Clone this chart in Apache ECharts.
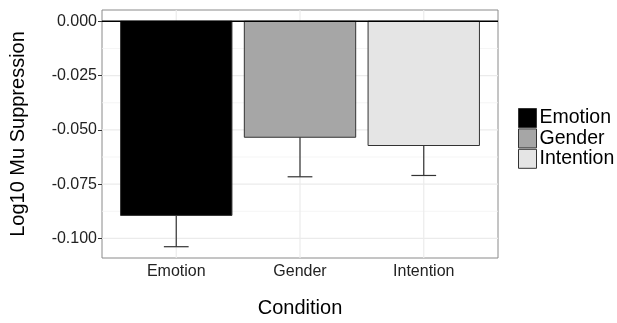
<!DOCTYPE html>
<html>
<head>
<meta charset="utf-8">
<script src="https://cdn.jsdelivr.net/npm/echarts@6/dist/echarts.min.js"></script>
<style>html,body{margin:0;padding:0;background:#fff}#c{width:617px;height:323px}</style>
</head>
<body>
<div id="c"></div>
<script>
// Data
const categories = ['Emotion', 'Gender', 'Intention'];
const means = [-0.0894, -0.0534, -0.0572];
const lowers = [-0.1038, -0.0716, -0.0710];
const fills = ['#000000', '#a6a6a6', '#e5e5e5'];
const yTicks = [-0.100, -0.075, -0.050, -0.025, 0.000];
const yMinor = [-0.0875, -0.0625, -0.0375, -0.0125];
const xPositions = [1, 2, 3];

const chart = echarts.init(document.getElementById('c'), null, {renderer: 'canvas'});
const FONT = 'Liberation Sans, Arial, Helvetica, sans-serif';

const barSeries = categories.map((name, i) => ({
  name: name,
  type: 'custom',
  z: 3,
  itemStyle: {color: fills[i], borderColor: '#333', borderWidth: 1},
  data: [[xPositions[i], means[i]]],
  renderItem: function (params, api) {
    const x = api.value(0), v = api.value(1);
    const p0 = api.coord([x - 0.45, 0]);
    const p1 = api.coord([x + 0.45, v]);
    return {
      type: 'rect',
      shape: {x: p0[0], y: p0[1], width: p1[0] - p0[0], height: p1[1] - p0[1]},
      style: {fill: fills[i], stroke: '#333', lineWidth: 1}
    };
  }
}));

const errSeries = {
  name: 'err',
  type: 'custom',
  z: 2,
  silent: true,
  data: categories.map((c, i) => [xPositions[i], means[i], lowers[i]]),
  renderItem: function (params, api) {
    const x = api.value(0), m = api.value(1), lo = api.value(2);
    const a = api.coord([x, m]);
    const b = api.coord([x, lo]);
    const c1 = api.coord([x - 0.1, lo]);
    const c2 = api.coord([x + 0.1, lo]);
    return {
      type: 'group',
      children: [
        {type: 'line', shape: {x1: a[0], y1: a[1], x2: b[0], y2: b[1]}, style: {stroke: '#333', lineWidth: 1.2}},
        {type: 'line', shape: {x1: c1[0], y1: c1[1], x2: c2[0], y2: c2[1]}, style: {stroke: '#333', lineWidth: 1.2}}
      ]
    };
  }
};

// gridlines: [orientation (0 = horizontal at y value, 1 = vertical at x value), value, kind (0 minor, 1 major, 2 zero)]
const gridData = [
  ...yMinor.map(v => [0, v, 0]),
  ...yTicks.map(v => [0, v, 1]),
  ...xPositions.map(v => [1, v, 1])
];
function lineRender(params, api) {
  const cs = params.coordSys;
  const o = api.value(0), v = api.value(1), k = api.value(2);
  const style = k === 0 ? {stroke: '#f3f3f3', lineWidth: 0.8}
              : k === 1 ? {stroke: '#ebebeb', lineWidth: 1.2}
              : {stroke: '#000', lineWidth: 1.5};
  let shape;
  if (o === 0) {
    const p = api.coord([1, v]);
    shape = {x1: cs.x, y1: p[1], x2: cs.x + cs.width, y2: p[1]};
  } else {
    const p = api.coord([v, 0]);
    shape = {x1: p[0], y1: cs.y, x2: p[0], y2: cs.y + cs.height};
  }
  return {type: 'line', shape: shape, style: style};
}
const gridSeries = {name: 'grid', type: 'custom', z: 0, silent: true, data: gridData, renderItem: lineRender};
const zeroSeries = {name: 'zero', type: 'custom', z: 5, silent: true, data: [[0, 0, 2]], renderItem: lineRender};

chart.setOption({
  animation: false,
  backgroundColor: '#fff',
  grid: {left: 100, right: 119, top: 10, bottom: 65, show: true, borderColor: '#8a8a8a', borderWidth: 1, backgroundColor: '#fff', containLabel: false},
  legend: {
    data: categories,
    orient: 'vertical',
    left: 518,
    top: 108,
    padding: 0,
    icon: 'rect',
    itemWidth: 18,
    itemHeight: 19,
    itemGap: 0.4,
    selectedMode: false,
    itemStyle: {borderColor: '#333', borderWidth: 1},
    textStyle: {fontFamily: FONT, fontSize: 19.5, color: '#000', lineHeight: 19, padding: [0, 0, 0, -2]}
  },
  xAxis: {
    type: 'value',
    min: 0.4,
    max: 3.6,
    name: 'Condition',
    nameLocation: 'middle',
    nameGap: 40,
    nameTextStyle: {fontFamily: FONT, fontSize: 20, color: '#000'},
    axisLine: {show: false},
    splitLine: {show: false},
    axisTick: {show: true, length: 4, customValues: xPositions, lineStyle: {color: '#333'}},
    axisLabel: {
      customValues: xPositions,
      margin: 6,
      fontFamily: FONT, fontSize: 16, color: '#222',
      formatter: v => categories[Math.round(v) - 1]
    }
  },
  yAxis: {
    type: 'value',
    min: -0.1090,
    max: 0.0052,
    name: 'Log10 Mu Suppression',
    nameLocation: 'middle',
    nameGap: 74,
    nameTextStyle: {fontFamily: FONT, fontSize: 20, color: '#000'},
    axisLine: {show: false},
    splitLine: {show: false},
    axisTick: {show: true, length: 4, customValues: yTicks, lineStyle: {color: '#333'}},
    axisLabel: {
      customValues: yTicks,
      margin: 5,
      fontFamily: FONT, fontSize: 16, color: '#222',
      formatter: v => v.toFixed(3)
    }
  },
  series: [gridSeries, errSeries, ...barSeries, zeroSeries]
});
</script>
</body>
</html>
